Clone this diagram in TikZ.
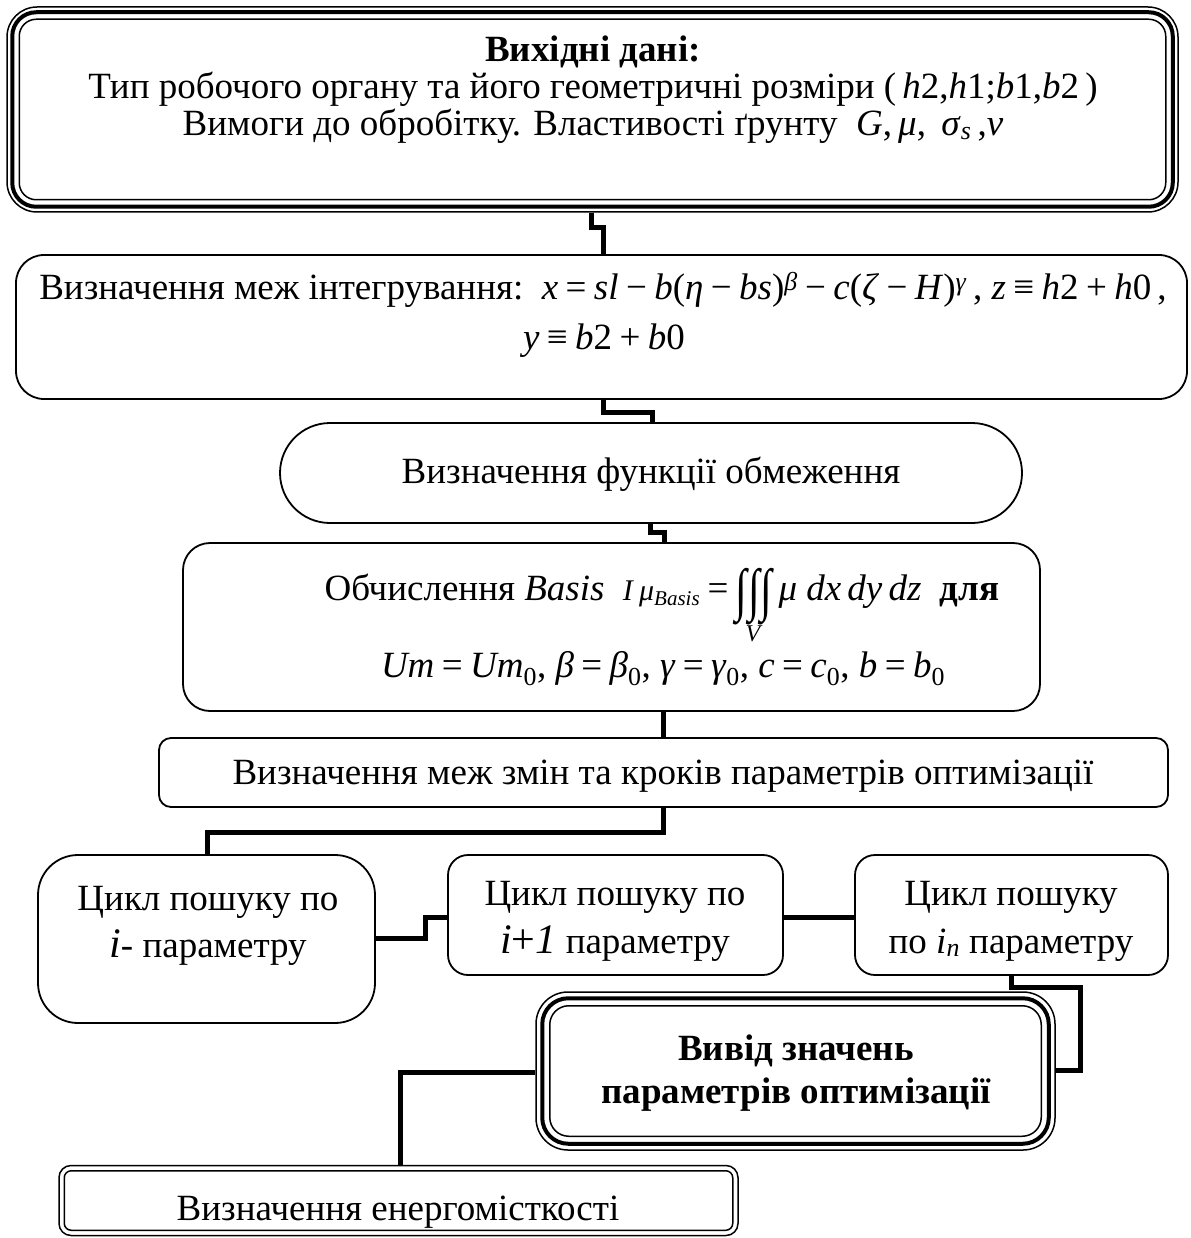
\documentclass[tikz,border=0pt]{standalone}
\usepackage{fontspec}
\usepackage{graphicx}
\setmainfont{Liberation Serif}
\usetikzlibrary{calc}
\newcommand{\fs}{\fontsize{37}{44}\selectfont}
\newcommand{\vi}[1]{\textit{#1}}
\newcommand{\op}[1]{\hspace{0.2em}#1\hspace{0.2em}}
\newcommand{\bigint}{\scalebox{1.15}[1.56]{∫}}
\newsavebox{\ibox}
\newcommand{\tint}{\sbox{\ibox}{\raisebox{-0.27em}{\bigint\kern0.02em\bigint\kern0.02em\bigint}}\usebox{\ibox}\llap{\makebox[\wd\ibox][c]{\raisebox{-1.12em}{\fontsize{24}{28}\selectfont\vi{V}}}}}
\begin{document}
\begin{tikzpicture}[x=1pt,y=-1pt,
  bx/.style={draw, line width=1.8pt, inner sep=0pt},
  conn/.style={line width=5pt, line join=miter, line cap=butt},
  txt/.style={inner sep=0pt, anchor=base, font=\fs},
  txtb/.style={inner sep=0pt, anchor=base, font=\fs\bfseries}]
\fill[white] (0,0) rectangle (1190,1238);
\useasboundingbox (0,0) rectangle (1190,1238);

% ---------- boxes ----------
\node[bx, line width=1.5pt, rounded corners=30, minimum width=1171pt, minimum height=205pt] (n1) at (592.5,109.5) {};
\draw[line width=4pt, rounded corners=24] ($(n1.north west)+(6,6)$) rectangle ($(n1.south east)+(-6,-6)$);
\draw[line width=1.5pt, rounded corners=17] ($(n1.north west)+(13,13)$) rectangle ($(n1.south east)+(-13,-13)$);

\node[bx, rounded corners=28, minimum width=1171pt, minimum height=144pt] (n2) at (601.5,327) {};
\node[bx, rounded corners=50, minimum width=742pt, minimum height=100pt] (n3) at (651,473) {};
\node[bx, rounded corners=27, minimum width=857pt, minimum height=168pt] (n4) at (611.5,627) {};
\node[bx, rounded corners=12, minimum width=1009pt, minimum height=69pt] (n5) at (663.5,772.5) {};
\node[bx, rounded corners=40, minimum width=337pt, minimum height=168pt] (n6) at (206.5,939) {};
\node[bx, rounded corners=20, minimum width=335pt, minimum height=120pt] (n7) at (615.5,915) {};
\node[bx, rounded corners=20, minimum width=313pt, minimum height=120pt] (n8) at (1011.5,915) {};

\node[bx, line width=1.5pt, rounded corners=32, minimum width=519pt, minimum height=158pt] (n9) at (795.5,1071) {};
\draw[line width=4pt, rounded corners=26] ($(n9.north west)+(7,7)$) rectangle ($(n9.south east)+(-7,-7)$);
\draw[line width=1.5pt, rounded corners=19] ($(n9.north west)+(14.5,14.5)$) rectangle ($(n9.south east)+(-14.5,-14.5)$);

\node[bx, line width=1.5pt, rounded corners=12, minimum width=679pt, minimum height=70pt] (n10) at (398.5,1200.5) {};
\draw[line width=1.5pt, rounded corners=7] ($(n10.north west)+(6,6)$) rectangle ($(n10.south east)+(-6,-6)$);

% ---------- texts ----------
\node[txtb] (t1a) at (593,62) {Вихідні дані:};
\node[txt] (t1b) at (593,99) {Тип робочого органу та його геометричні розміри (\,\vi{h}2,\vi{h}1;\vi{b}1,\vi{b}2\,)};
\node[txt] (t1c) at (593,136) {Вимоги до обробітку. Властивості ґрунту \ \vi{G},\,\vi{μ},\, \vi{σ}\textsubscript{\vi{s}}\,,\vi{ν}};

\node[txt] (t2a) at (603,300) {Визначення меж інтегрування:\ \ \vi{x}\op{=}\vi{sl}\op{−}\vi{b}(\vi{η}\op{−}\vi{bs})\textsuperscript{\vi{β}}\op{−}\vi{c}(\vi{ζ}\op{−}\vi{H})\textsuperscript{\vi{γ}}\,,\ \vi{z}\op{≡}\vi{h}2\op{+}\vi{h}0\,,};
\node[txt] (t2b) at (604,349) {\vi{y}\op{≡}\vi{b}2\op{+}\vi{b}0};

\node[txt] (t3) at (651,483) {Визначення функції обмеження};

\node[txt] (t4a) at (662,600) {Обчислення \vi{Basis}\ \ {\fontsize{30}{36}\selectfont\vi{I}\,\vi{μ}\textsubscript{\vi{Basis}}}\op{=}\tint\,\vi{μ}\ \vi{dx}\,\vi{dy}\,\vi{dz}\ \ {\bfseries для}};
\node[txt] (t4b) at (663,677) {\vi{Um}\op{=}\vi{Um}\textsubscript{0},\ \vi{β}\op{=}\vi{β}\textsubscript{0},\ \vi{γ}\op{=}\vi{γ}\textsubscript{0},\ \vi{c}\op{=}\vi{c}\textsubscript{0},\ \vi{b}\op{=}\vi{b}\textsubscript{0}};

\node[txt] (t5) at (663,784) {Визначення меж змін та кроків параметрів оптимізації};

\node[txt] (t6a) at (208,910) {Цикл пошуку по};
\node[txt] (t6b) at (208,957) {{\fontsize{42}{48}\selectfont\vi{i}}- параметру};
\node[txt] (t7a) at (615,905) {Цикл пошуку по};
\node[txt] (t7b) at (615,953) {{\fontsize{42}{48}\selectfont\vi{i}+\vi{1}} параметру};
\node[txt] (t8a) at (1011,905) {Цикл пошуку};
\node[txt] (t8b) at (1011,953) {по \vi{i}\textsubscript{\vi{n}} параметру};

\node[txtb] (t9a) at (796,1060) {Вивід значень};
\node[txtb] (t9b) at (796,1103) {параметрів оптимізації};

\node[txt] (t10) at (398,1220) {Визначення енергомісткості};

% ---------- connectors ----------
\coordinate (c1a) at (591,228); \coordinate (c1b) at (603,228);
\draw[conn] (n1.south -| c1a) -- (c1a) -- (c1b) -- (n2.north -| c1b);
\coordinate (c2a) at (603,412); \coordinate (c2b) at (652,412);
\draw[conn] (n2.south -| c2a) -- (c2a) -- (c2b) -- (n3.north -| c2b);
\coordinate (c3a) at (650,532); \coordinate (c3b) at (664,532);
\draw[conn] (n3.south -| c3a) -- (c3a) -- (c3b) -- (n4.north -| c3b);
\coordinate (c4a) at (663,720);
\draw[conn] (n4.south -| c4a) -- (n5.north -| c4a);
\coordinate (c5a) at (663,832); \coordinate (c5b) at (207,832);
\draw[conn] (n5.south -| c5a) -- (c5a) -- (c5b) -- (n6.north -| c5b);
\coordinate (c6a) at (425,938); \coordinate (c6b) at (425,917);
\draw[conn] (n6.east |- c6a) -- (c6a) -- (c6b) -- (n7.west |- c6b);
\coordinate (c7a) at (800,917);
\draw[conn] (n7.east |- c7a) -- (n8.west |- c7a);
\coordinate (c8a) at (1011,987); \coordinate (c8b) at (1080,987); \coordinate (c8c) at (1080,1070);
\draw[conn] (n8.south -| c8a) -- (c8a) -- (c8b) -- (c8c) -- (n9.east |- c8c);
\coordinate (c9a) at (400,1072);
\draw[conn] (n9.west |- c9a) -- (c9a) -- (n10.north -| c9a);
\end{tikzpicture}
\end{document}
